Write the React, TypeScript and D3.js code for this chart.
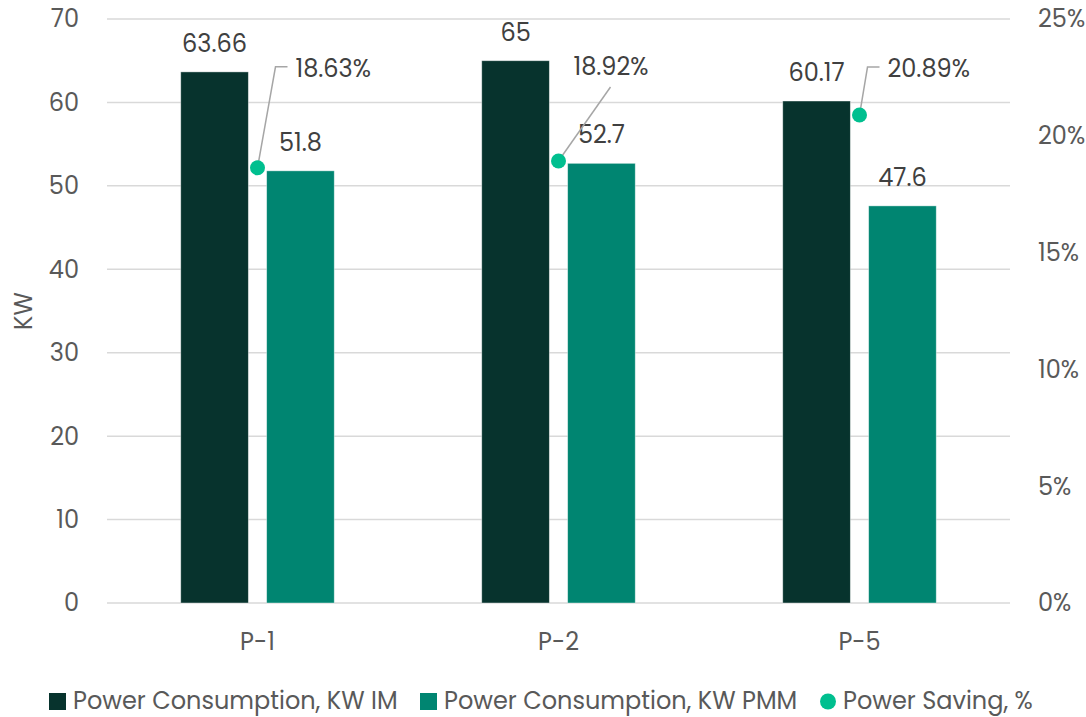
import React from "react";
import * as d3 from "d3";

const categories = ["P-1", "P-2", "P-5"];
const series = ["Power Consumption, KW IM", "Power Consumption, KW PMM"];
const imValues = [63.66, 65, 60.17];
const pmmValues = [51.8, 52.7, 47.6];
const savingValues = [18.63, 18.92, 20.89];
const savingLabel = "Power Saving, %";
const leftTicks = [0, 10, 20, 30, 40, 50, 60, 70];
const rightTicks = [0, 5, 10, 15, 20, 25];

const colors = ["#07332d", "#008571"];
const dotColor = "#00bf8f";

// label placement for the saving points (offset of the label from the dot)
const savingLabelPos = [
    {dx: 38, dy: -91, type: "elbow"},
    {dx: 15, dy: -86, type: "straight"},
    {dx: 28, dy: -38, type: "elbow"},
];

const W = 1086;
const H = 717;
const font = "Poppins, 'Open Sans', sans-serif";
const fs = 24;

export default function App()
{
    const plot = {left: 107, right: 1010, top: 19, bottom: 603};

    const x0 = d3.scaleBand()
        .domain(categories)
        .range([plot.left, plot.right])
        .paddingInner(0.49)
        .paddingOuter(0.245);

    const x1 = d3.scaleBand()
        .domain(series)
        .range([0, x0.bandwidth()])
        .paddingInner(0.213);

    const y = d3.scaleLinear().domain([0, 70]).range([plot.bottom, plot.top]);
    const yR = d3.scaleLinear().domain([0, 25]).range([plot.bottom, plot.top]);

    const seriesValues = [imValues, pmmValues];

    return (
        <svg width={W} height={H} style={{position: "absolute", left: 0, top: 0}} fontFamily={font}>
            <rect width={W} height={H} fill="#fff" />

            {leftTicks.map((t) => (
                <g key={"g" + t}>
                    <line x1={plot.left} x2={plot.right} y1={y(t)} y2={y(t)} stroke="#d9d9d9" strokeWidth={1.5} />
                    <text x={79} y={y(t)} dy="0.35em" textAnchor="end" fontSize={fs} fill="#595959">{t}</text>
                </g>
            ))}

            {rightTicks.map((t) => (
                <text key={"r" + t} x={1038} y={yR(t)} dy="0.35em" textAnchor="start" fontSize={fs} fill="#595959">{t}%</text>
            ))}

            <text transform={`translate(24,${(plot.top + plot.bottom) / 2}) rotate(-90)`} textAnchor="middle" dy="0.35em" fontSize={fs} fill="#595959">KW</text>

            {categories.map((c, i) => (
                <g key={c}>
                    {series.map((s, j) => {
                        const v = seriesValues[j][i];
                        const bx = x0(c)! + x1(s)!;
                        return (
                            <g key={s}>
                                <rect x={bx} y={y(v)} width={x1.bandwidth()} height={y(0) - y(v)} fill={colors[j]} stroke="#ffffff" strokeOpacity={0.5} strokeWidth={0.8} />
                                <text x={bx + x1.bandwidth() / 2} y={y(v) - 20} textAnchor="middle" fontSize={fs} fill="#404040">{v}</text>
                            </g>
                        );
                    })}
                    <text x={x0(c)! + x0.bandwidth() / 2} y={650} textAnchor="middle" fontSize={fs} fill="#595959">{c}</text>
                </g>
            ))}

            {categories.map((c, i) => {
                const cx = x0(c)! + x0.bandwidth() / 2;
                const cy = yR(savingValues[i]);
                const p = savingLabelPos[i];
                const lx = cx + p.dx;
                const ly = cy + p.dy;
                let path;
                if (p.type === "elbow")
                    path = `M${cx},${cy}L${lx - 20},${ly - 10}L${lx - 8},${ly - 10}`;
                else
                    path = `M${cx},${cy}L${lx + 37},${ly + 12}`;
                return (
                    <g key={"s" + c}>
                        <path d={path} fill="none" stroke="#a6a6a6" strokeWidth={1.5} />
                        <circle cx={cx} cy={cy} r={7.5} fill={dotColor} />
                        <text x={lx} y={ly} fontSize={fs} fill="#404040">{savingValues[i].toFixed(2)}%</text>
                    </g>
                );
            })}

            <g>
                <rect x={49} y={693} width={17} height={17} fill={colors[0]} />
                <text x={73} y={709} fontSize={fs} fill="#595959">{series[0]}</text>
                <rect x={420} y={693} width={17} height={17} fill={colors[1]} />
                <text x={444} y={709} fontSize={fs} fill="#595959">{series[1]}</text>
                <circle cx={828} cy={701.5} r={8} fill={dotColor} />
                <text x={843} y={709} fontSize={fs} fill="#595959">{savingLabel}</text>
            </g>
        </svg>
    );
}
